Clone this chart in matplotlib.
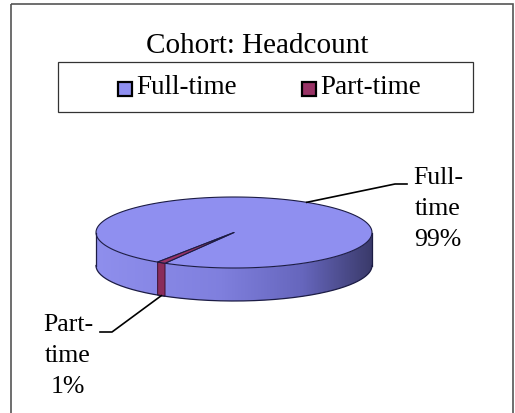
import numpy as np
import matplotlib.pyplot as plt
from matplotlib.patches import Polygon, Rectangle
from matplotlib.colors import LinearSegmentedColormap

plt.rcParams['font.family'] = ['Liberation Serif', 'DejaVu Serif']

categories = ['Full-time', 'Part-time']
shares = [99, 1]
colors = ['#8f8ff0', '#993366']
title = 'Cohort: Headcount'

fig = plt.figure(figsize=(5.15, 4.13), dpi=100)
ax = fig.add_axes([0, 0, 1, 1])
ax.set_xlim(0, 515)
ax.set_ylim(413, 0)
ax.axis('off')

# outer frame
ax.add_patch(Rectangle((11, 4), 502, 420, fill=False, ec='#555555', lw=1.2, clip_on=False))

ax.text(257, 46, title, ha='center', va='center', fontsize=21)

# legend box (drawn by hand to match the layout)
ax.add_patch(Rectangle((58, 62), 415, 50, fill=False, ec='#333333', lw=0.9))
leg_x = [118, 302]
for i, cat in enumerate(categories):
    ax.add_patch(Rectangle((leg_x[i], 82), 14, 14, fc=colors[i], ec='black', lw=1.6))
    ax.text(leg_x[i] + 18, 87, cat, ha='left', va='center', fontsize=19.5)

# 3d pie geometry in pixels
cx, cy, a, b, depth = 234, 232.5, 138, 35.5, 33
outline = '#1c1c44'

def pt(t):
    t = np.radians(t)
    return cx + a * np.cos(t), cy - b * np.sin(t)

fr = np.array(shares, dtype=float) / sum(shares)
start = 236.4
bounds = []
s = start
for f in fr[::-1]:
    bounds.append((s, s + 360 * f))
    s += 360 * f
bounds = bounds[::-1]  # bounds[0] -> Full-time, bounds[1] -> Part-time

# side of the pie (front half) with a shaded gradient
tt = np.linspace(180, 360, 300)
top_arc = [pt(t) for t in tt]
bot_arc = [(x, y + depth) for x, y in top_arc[::-1]]
side = Polygon(top_arc + bot_arc, closed=True, fc='none', ec='none')
ax.add_patch(side)
shade = LinearSegmentedColormap.from_list('shade', [
    (0.0, (0.56, 0.56, 0.93)), (0.45, (0.50, 0.50, 0.87)),
    (0.75, (0.40, 0.40, 0.74)), (1.0, (0.23, 0.23, 0.42))])
grad = np.linspace(0, 1, 256).reshape(1, -1)
im = ax.imshow(grad, cmap=shade, aspect='auto',
               extent=(cx - a, cx + a, cy + b + depth + 2, cy - 2), zorder=1)
im.set_clip_path(side)

# part-time strip on the side
lo, hi = bounds[1]
strip_t = np.linspace(lo, hi, 20)
strip_top = [pt(t) for t in strip_t]
strip = strip_top + [(x, y + depth) for x, y in strip_top[::-1]]
ax.add_patch(Polygon(strip, closed=True, fc='#8a2c5b', ec='#3a1030', lw=0.7, zorder=2))

# top faces
for i, (t0, t1) in enumerate(bounds):
    arc = np.linspace(t0, t1, 200)
    xy = [(cx, cy)] + [pt(t) for t in arc]
    ax.add_patch(Polygon(xy, closed=True, fc=colors[i], ec=outline, lw=0.8,
                         joinstyle='round', zorder=3))

# outlines
xs = [p[0] for p in bot_arc]
ys = [p[1] for p in bot_arc]
ax.plot(xs, ys, color=outline, lw=0.9, zorder=3)
ax.plot([cx - a, cx - a], [cy, cy + depth], color=outline, lw=0.9, zorder=3)
ax.plot([cx + a, cx + a], [cy, cy + depth], color=outline, lw=0.9, zorder=3)

# data labels with leaders
lab_pos = [(438, 209), (68, 356)]
elbows = [[(395, 184), (407, 184)], [(112, 332), (100, 332)]]
for i, cat in enumerate(categories):
    mid = (bounds[i][0] + bounds[i][1]) / 2
    x, y = pt(mid)
    if np.sin(np.radians(mid)) < 0:
        y += depth
    pts = [(x, y)] + elbows[i]
    ax.plot([p[0] for p in pts], [p[1] for p in pts], color='black', lw=1.2, zorder=4)
    label = cat.replace('-', '-\n') + f'\n{shares[i]}%'
    ax.text(lab_pos[i][0], lab_pos[i][1], label, ha='center', va='center',
            fontsize=18.5, linespacing=1.55)

fig.savefig('out.png', dpi=100)
